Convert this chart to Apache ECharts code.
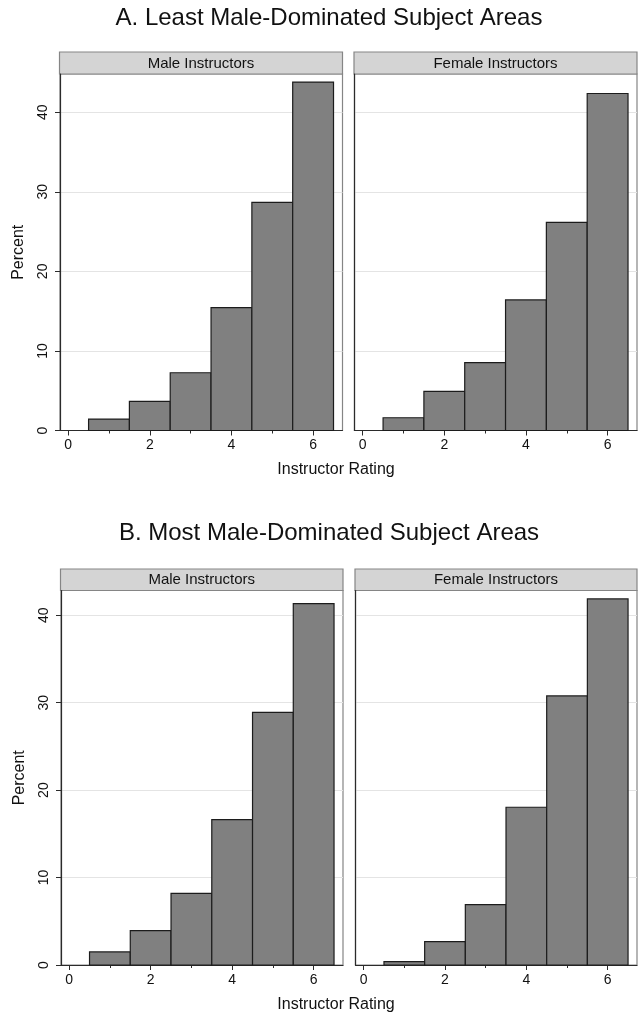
<!DOCTYPE html>
<html>
<head>
<meta charset="utf-8">
<script src="https://cdn.jsdelivr.net/npm/echarts@6/dist/echarts.min.js"></script>
<style>
html,body{margin:0;padding:0;background:#fff;}
#chart{width:639px;height:1015px;}
</style>
</head>
<body>
<div id="chart"></div>
<script>
// ---- data ----
const ratings = [1, 2, 3, 4, 5, 6];
const binWidth = 1;
const leastMale   = [1.43, 3.65, 7.26, 15.45, 28.67, 43.78];
const leastFemale = [1.60, 4.91, 8.52, 16.41, 26.15, 42.35];
const mostMale    = [1.49, 3.93, 8.20, 16.63, 28.90, 41.33];
const mostFemale  = [0.38, 2.67, 6.90, 18.04, 30.77, 41.87];
const yTicks = [0, 10, 20, 30, 40];
const xTicks = [0, 2, 4, 6];
const xMinorTicks = [1, 3, 5];
const panelTitles = ['A. Least Male-Dominated Subject Areas', 'B. Most Male-Dominated Subject Areas'];
const stripLabels = ['Male Instructors', 'Female Instructors'];
const xTitle = 'Instructor Rating';
const yTitle = 'Percent';

// ---- layout ----
const FONT = '"Liberation Sans", Arial, Helvetica, sans-serif';
const grids = [
  {left: 60,    top: 74,    width: 282.5, height: 356.5},
  {left: 354.5, top: 74,    width: 282.5, height: 356.5},
  {left: 61,    top: 590.5, width: 282,   height: 374.5},
  {left: 355.5, top: 590.5, width: 281.5, height: 374.5}
];
const yMax = [44.8, 44.8, 42.83, 42.83];
const seriesData = [leastMale, leastFemale, mostMale, mostFemale];

const xAxes = [], yAxes = [], series = [];
grids.forEach((g, i) => {
  xAxes.push({
    type: 'value', gridIndex: i, min: -0.2, max: 6.72,
    axisLine: {show: true, onZero: false, lineStyle: {color: '#2b2b2b', width: 1.2}},
    axisTick: {show: true, length: 5, customValues: xTicks, lineStyle: {color: '#2b2b2b', width: 1}},
    axisLabel: {show: true, customValues: xTicks, margin: 8, color: '#111', fontSize: 14, fontFamily: FONT},
    splitLine: {show: false}
  });
  xAxes.push({
    type: 'value', gridIndex: i, min: -0.2, max: 6.72, position: 'bottom',
    axisLine: {show: false, onZero: false},
    axisTick: {show: true, length: 3, customValues: xMinorTicks, lineStyle: {color: '#2b2b2b', width: 1}},
    axisLabel: {show: false},
    splitLine: {show: false}
  });
  const left = (i % 2 === 0);
  yAxes.push({
    type: 'value', gridIndex: i, min: 0, max: yMax[i], interval: 10,
    name: left ? yTitle : '', nameLocation: 'middle', nameGap: 33,
    nameTextStyle: {color: '#111', fontSize: 16, fontFamily: FONT},
    axisLine: {show: true, onZero: false, lineStyle: {color: '#2b2b2b', width: 1.2}},
    axisTick: {show: left, length: 5, customValues: yTicks, lineStyle: {color: '#2b2b2b', width: 1}},
    axisLabel: {show: left, customValues: yTicks, rotate: 90, margin: 10, color: '#111', fontSize: 14, fontFamily: FONT},
    splitLine: {show: true, lineStyle: {color: '#e4e4e4', width: 1}}
  });
  series.push({
    type: 'custom', xAxisIndex: i * 2, yAxisIndex: i,
    data: ratings.map((r, k) => [r, seriesData[i][k]]),
    renderItem: (params, api) => {
      const x = api.value(0), v = api.value(1);
      const p0 = api.coord([x - binWidth / 2, 0]);
      const p1 = api.coord([x + binWidth / 2, v]);
      return {
        type: 'rect',
        shape: {x: p0[0], y: p1[1], width: p1[0] - p0[0], height: p0[1] - p1[1]},
        style: {fill: '#808080', stroke: '#1c1c1c', lineWidth: 1.2}
      };
    },
    z: 3
  });
});

const graphic = [];
// panel titles
[18, 533].forEach((y, k) => {
  graphic.push({type: 'text', x: 329, y: y, style: {text: panelTitles[k], fill: '#111', font: '24px ' + FONT, textAlign: 'center', textVerticalAlign: 'middle'}});
});
// strips
const strips = [
  {x: 59.5, y: 52, w: 283, h: 22},
  {x: 354, y: 52, w: 283, h: 22},
  {x: 60.5, y: 569, w: 282.5, h: 21.5},
  {x: 355, y: 569, w: 282, h: 21.5}
];
strips.forEach((s, i) => {
  graphic.push({type: 'rect', shape: {x: s.x, y: s.y, width: s.w, height: s.h}, style: {fill: '#d4d4d4', stroke: '#858585', lineWidth: 1.2}});
  graphic.push({type: 'text', x: s.x + s.w / 2, y: s.y + s.h / 2 + 0.5, style: {text: stripLabels[i % 2], fill: '#111', font: '15px ' + FONT, textAlign: 'center', textVerticalAlign: 'middle'}});
});
// x axis titles
[470, 1005].forEach((y) => {
  graphic.push({type: 'text', x: 336, y: y, style: {text: xTitle, fill: '#111', font: '16px ' + FONT, textAlign: 'center', textVerticalAlign: 'middle'}});
});

const chart = echarts.init(document.getElementById('chart'), null, {renderer: 'canvas'});
chart.setOption({
  backgroundColor: '#ffffff',
  animation: false,
  grid: grids.map(g => Object.assign({show: true, borderColor: '#858585', borderWidth: 1.2, backgroundColor: 'transparent'}, g)),
  xAxis: xAxes,
  yAxis: yAxes,
  series: series,
  graphic: graphic
});
</script>
</body>
</html>
